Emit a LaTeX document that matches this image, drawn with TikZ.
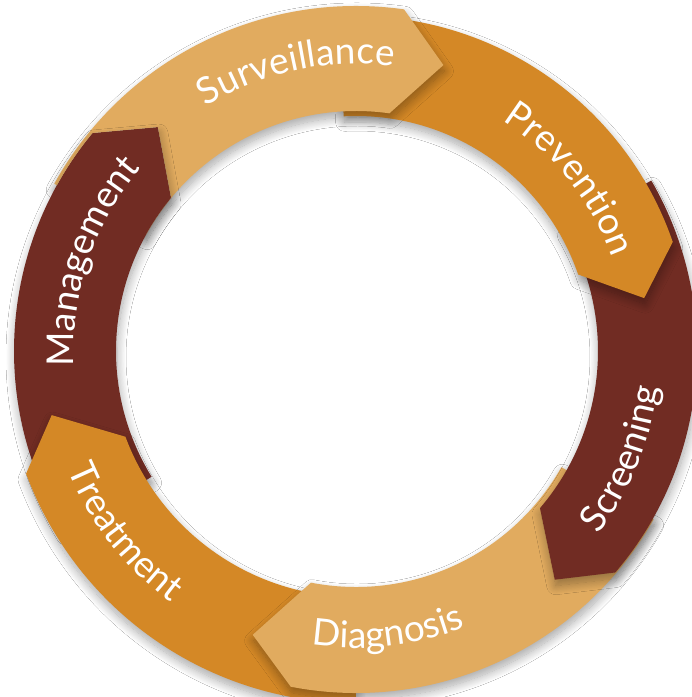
\documentclass[tikz,border=0pt]{standalone}
\usepackage{fontspec}
\setmainfont{Lato}
\usetikzlibrary{decorations.text,shadows.blur}

\definecolor{tan}{HTML}{E1AB5F}
\definecolor{amber}{HTML}{D48826}
\definecolor{maroon}{HTML}{712C23}

\newcommand{\seglabelfont}{\color{white}\fontsize{37pt}{40pt}\selectfont}

% outline of a ring segment: inner r, outer r, tail angle, head base angle, tip angle, tip r
\newcommand{\segpath}[6]{%
  (#3:#2pt) arc[start angle=#3, end angle=#4, radius=#2pt]
    -- (#5:#6pt) -- (#4:#1pt) arc[start angle=#4, end angle=#3, radius=#1pt] -- cycle}

% the six segments
\newcommand{\survpath}{\segpath{240}{345}{151}{82}{73}{299}}
\newcommand{\prevpath}{\segpath{235}{335}{93}{19}{10.4}{293}}
\newcommand{\scrnpath}{\segpath{242}{341}{30}{-40.5}{-49}{303}}
\newcommand{\diagpath}{\segpath{236}{342}{-29.5}{-101}{-110}{302}}
\newcommand{\treatpath}{\segpath{246}{352}{270}{200.4}{191.9}{311}}
\newcommand{\mgmtpath}{\segpath{240}{342}{211.6}{140.4}{131.5}{299}}

% label running clockwise (letters upright away from centre)
\newcommand{\cwlabel}[3]{%
  \path[decorate, decoration={text along path, text align=center,
      text={|\seglabelfont|#3}}]
    (#2+70:#1pt) arc[start angle=#2+70, end angle=#2-70, radius=#1pt];}
% label running counter-clockwise (letters upright towards centre)
\newcommand{\ccwlabel}[3]{%
  \path[decorate, decoration={text along path, text align=center,
      text={|\seglabelfont|#3}}]
    (#2-70:#1pt) arc[start angle=#2-70, end angle=#2+70, radius=#1pt];}

\tikzset{
  segshadow/.style={blur shadow={shadow xshift=1pt, shadow yshift=-6pt,
      shadow blur radius=9pt, shadow blur steps=16, shadow opacity=35}},
  segtan/.style={fill=tan, segshadow},
  segamber/.style={fill=amber, segshadow},
  segmaroon/.style={fill=maroon, segshadow},
}

\begin{document}
\begin{tikzpicture}[x=1pt,y=1pt]
  \fill[white] (-356,-346) rectangle (336,351);
  \useasboundingbox (-356,-346) rectangle (336,351);

  % segments, each head lying over the next one's tail
  \fill[segmaroon] \mgmtpath;   % Management
  \fill[segamber]  \treatpath;  % Treatment
  \fill[segtan]    \diagpath;   % Diagnosis
  \fill[segmaroon] \scrnpath;   % Screening
  \fill[segamber]  \prevpath;   % Prevention

  % Surveillance passes under the head of Management
  \begin{scope}[even odd rule]
    \clip (-420,-420) -- (420,-420) -- (420,420) -- (-420,420) -- cycle \mgmtpath;
    \fill[segtan] \survpath;    % Surveillance
    % shadow of the Management head falling on Surveillance
    \begin{scope}
      \clip \survpath;
      \path[segshadow] \mgmtpath;
    \end{scope}
  \end{scope}

  % labels
  \cwlabel{287}{102}{Surveillance}
  \cwlabel{273}{38.8}{Prevention}
  \ccwlabel{304}{-22}{Screening}
  \ccwlabel{297}{-83.5}{Diagnosis}
  \ccwlabel{312}{218}{Treatment}
  \cwlabel{282}{161.4}{Management}
\end{tikzpicture}
\end{document}
